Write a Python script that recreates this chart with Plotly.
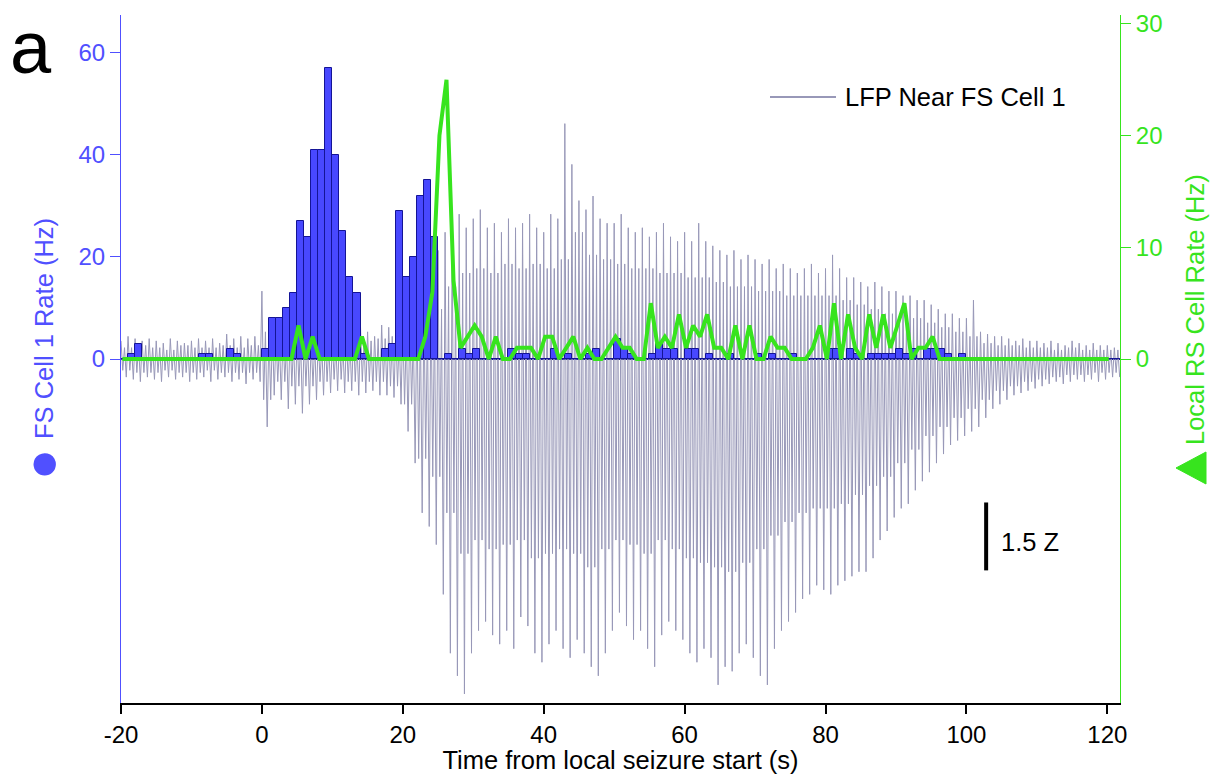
import plotly.graph_objects as go

# ---------------- data ----------------
# 1-s bins, left edge of each bin (s)
time_s = list(range(-20, 122))

# FS Cell 1 firing rate per 1-s bin (Hz)
fs_rate = [0, 1, 3, 0, 0, 0, 0, 0, 0, 0, 0, 1, 1, 0, 0, 2, 1, 0, 0, 0,
           2, 8, 8, 10, 13, 27, 24, 41, 41, 57, 40, 25, 16, 13, 1, 0, 0, 2, 3, 29,
           16, 20, 32, 35, 24, 0, 1, 0, 2, 1, 2, 0, 0, 0, 0, 2, 1, 1, 0, 0,
           0, 2, 0, 1, 0, 0, 1, 2, 0, 0, 4, 2, 1, 0, 0, 1, 3, 2, 2, 0,
           2, 2, 0, 1, 0, 0, 1, 0, 0, 0, 1, 0, 1, 0, 0, 1, 0, 0, 0, 0,
           2, 2, 0, 2, 1, 0, 1, 1, 1, 1, 2, 1, 2, 0, 2, 2, 2, 1, 0, 1,
           0, 0, 0, 0, 0, 0, 0, 0, 0, 0, 0, 0, 0, 0, 0, 0, 0, 0, 0, 0, 0, 0]

# Local RS cell rate, one sample per second (Hz), seconds -20..120
rs_time = list(range(-20, 121))
rs_rate = [0] * 25 + [
    3, 0, 2, 0, 0, 0, 0, 0, 0, 2, 0, 0, 0, 0, 0, 0, 0, 0, 2, 6,
    20, 25, 7, 1, 2, 3, 2, 0, 2, 0, 0, 1, 1, 1, 0, 2, 2, 0, 1, 2,
    0, 1, 0, 0, 1, 2, 1, 1, 0, 0, 5, 1, 2, 1, 4, 1, 3, 2, 4, 1,
    1, 0, 3, 0, 3, 0, 0, 2, 1, 1, 0, 0, 0, 1, 3, 0, 5, 0, 4, 1,
    0, 4, 1, 4, 1, 3, 5, 0, 1, 1, 2] + [0] * 25

# LFP near FS Cell 1 (Z): largest upper / lower excursion in each second
lfp_upper = [0.4, 0.5, 0.45, 0.4, 0.45, 0.4, 0.35, 0.45, 0.4, 0.35,
             0.4, 0.45, 0.4, 0.45, 0.35, 0.55, 0.45, 0.5, 0.45, 0.5,
             1.5, 0.6, 0.55, 0.6, 0.65, 0.6, 0.5, 0.45, 0.5, 0.45,
             0.4, 0.45, 0.5, 0.55, 0.7, 0.6, 0.5, 0.75, 0.7, 0.65,
             0.8, 0.9, 1.2, 1.3, 1.6, 2.4, 2.8, 3.0, 3.2, 2.9,
             3.1, 3.3, 2.9, 3.0, 2.8, 3.1, 2.9, 3.0, 3.2, 2.9,
             2.8, 3.2, 3.1, 5.2, 4.3, 3.5, 3.3, 3.6, 3.1, 3.0,
             3.0, 3.2, 2.9, 2.8, 2.9, 2.7, 2.8, 3.0, 2.7, 2.6,
             2.8, 2.6, 3.0, 2.6, 2.5, 2.4, 2.3, 2.4, 2.2, 2.3,
             2.2, 2.1, 2.2, 2.0, 2.1, 2.0, 1.9, 2.0, 2.1, 1.9,
             2.0, 2.3, 2.0, 1.8, 1.8, 1.7, 1.6, 1.7, 1.6, 1.5,
             1.5, 1.4, 1.4, 1.3, 1.3, 1.2, 1.1, 1.0, 1.0, 0.9,
             0.9, 1.3, 0.6, 0.55, 0.5, 0.5, 0.45, 0.4, 0.45, 0.4,
             0.4, 0.35, 0.4, 0.35, 0.3, 0.4, 0.35, 0.3, 0.35, 0.3,
             0.3, 0.25]
lfp_lower = [-0.4, -0.45, -0.5, -0.4, -0.45, -0.5, -0.4, -0.45, -0.4, -0.5,
             -0.45, -0.4, -0.5, -0.45, -0.4, -0.5, -0.45, -0.55, -0.45, -0.5,
             -1.5, -0.8, -0.9, -1.1, -1.0, -1.2, -1.0, -0.9, -0.8, -0.75,
             -0.7, -0.75, -0.7, -0.8, -0.75, -0.7, -0.8, -0.8, -0.85, -1.0,
             -1.6, -2.3, -3.4, -3.7, -4.1, -5.2, -6.5, -7.0, -7.4, -6.5,
             -6.0, -5.8, -6.1, -6.3, -6.0, -6.4, -5.7, -5.9, -6.5, -6.7,
             -6.3, -6.0, -6.4, -6.6, -6.2, -6.5, -6.8, -7.0, -6.5, -6.0,
             -5.6, -5.9, -6.2, -6.0, -6.4, -6.8, -6.1, -5.8, -6.0, -6.2,
             -6.5, -6.7, -6.4, -6.6, -7.2, -6.8, -6.9, -6.5, -6.3, -6.6,
             -7.0, -7.2, -6.4, -6.0, -5.8, -5.6, -5.3, -5.2, -5.0, -5.1,
             -5.2, -5.0, -4.9, -4.8, -4.7, -4.7, -4.4, -4.0, -3.8, -3.5,
             -3.3, -3.2, -2.9, -2.7, -2.5, -2.3, -2.1, -1.9, -1.8, -1.7,
             -1.6, -1.5, -1.3, -1.1, -1.0, -0.9, -0.8, -0.75, -0.7, -0.65,
             -0.6, -0.55, -0.5, -0.55, -0.5, -0.45, -0.5, -0.45, -0.5, -0.45,
             -0.4, -0.4]

# LFP dense-core extent (Z), one value per 2 s starting at -20 s
core_upper = [0.25, 0.3, 0.25, 0.2, 0.3, 0.25, 0.25, 0.3, 0.25, 0.3,
              0.6, 0.35, 0.4, 0.35, 0.3, 0.3, 0.35, 0.4, 0.45, 0.5,
              0.6, 0.8, 1.1, 1.6, 1.9, 2.0, 1.9, 2.1, 2.0, 2.1,
              2.0, 2.2, 2.8, 2.3, 2.2, 2.1, 2.0, 2.0, 1.9, 1.9,
              1.8, 1.8, 1.7, 1.6, 1.6, 1.5, 1.5, 1.4, 1.4, 1.4,
              1.4, 1.3, 1.2, 1.1, 1.0, 1.0, 0.9, 0.8, 0.7, 0.6,
              0.5, 0.35, 0.3, 0.3, 0.25, 0.25, 0.2, 0.25, 0.2, 0.2, 0.2]
core_lower = [-0.25, -0.3, -0.3, -0.25, -0.3, -0.3, -0.25, -0.3, -0.3, -0.3,
              -0.9, -0.5, -0.6, -0.6, -0.5, -0.45, -0.5, -0.5, -0.5, -0.6,
              -1.0, -2.2, -2.6, -3.4, -4.3, -4.0, -4.2, -4.1, -4.0, -4.4,
              -4.3, -4.2, -4.3, -4.6, -4.2, -4.0, -4.1, -4.3, -4.0, -4.2,
              -4.4, -4.5, -4.6, -4.7, -4.5, -4.2, -3.9, -3.6, -3.4, -3.3,
              -3.3, -3.2, -3.0, -2.8, -2.6, -2.3, -2.0, -1.7, -1.5, -1.3,
              -1.1, -0.9, -0.7, -0.6, -0.5, -0.45, -0.4, -0.35, -0.35, -0.3, -0.3]

x_ticks = [-20, 0, 20, 40, 60, 80, 100, 120]
x_ticktext = ["-20", "0", "20", "40", "60", "80", "100", "120"]
fs_ticks = [0, 20, 40, 60]
rs_ticks = [0, 10, 20, 30]

# ---------------- styling ----------------
BLUE = "rgb(80,80,255)"
BAR_FILL = "rgb(72,72,255)"
BAR_EDGE = "rgb(20,20,150)"
GREEN = "rgb(55,228,30)"
LFP_COL = "rgb(152,152,184)"
FONT = "Liberation Sans, Arial, sans-serif"

# LFP polyline: per second, outer peak -> core trough -> core peak -> outer trough
lfp_t, lfp_z = [], []
for i, t in enumerate(time_s):
    j = i // 2
    lfp_t += [t + 0.0, t + 0.25, t + 0.5, t + 0.75]
    lfp_z += [lfp_upper[i], core_lower[j], core_upper[j], lfp_lower[i]]

fig = go.Figure()
fig.add_trace(go.Scatter(x=lfp_t, y=lfp_z, mode="lines", yaxis="y",
                         line=dict(color=LFP_COL, width=1), hoverinfo="skip",
                         name="LFP Near FS Cell 1"))
fig.add_trace(go.Bar(x=[t + 0.5 for t in time_s], y=fs_rate, width=1, yaxis="y2",
                     marker=dict(color=BAR_FILL, line=dict(color=BAR_EDGE, width=1)),
                     name="FS Cell 1"))
fig.add_trace(go.Scatter(x=[t + 0.2 for t in rs_time], y=rs_rate, mode="lines", yaxis="y3",
                         line=dict(color=GREEN, width=4), name="Local RS"))

# plot-area geometry in page pixels
L, R, T, B = 121, 1120, 15, 703
W, H = 1210, 774
def px(xp):
    return (xp - L) / (R - L)
def py(yp):
    return (B - yp) / (B - T)

fig.update_layout(
    width=W, height=H,
    margin=dict(l=L, r=W - R, t=T, b=H - B, autoexpand=False),
    paper_bgcolor="white", plot_bgcolor="white",
    showlegend=False, bargap=0,
    font=dict(family=FONT, color="black"),
    xaxis=dict(range=[-20, 121.8], tickvals=x_ticks, ticktext=x_ticktext,
               showline=True, linecolor="black", automargin=False,
               linewidth=2, ticks="outside", ticklen=9, tickwidth=1.5, tickcolor="black",
               tickfont=dict(size=24, color="black"), showgrid=False, zeroline=False,
               title=dict(text="Time from local seizure start (s)",
                          font=dict(size=25.5, color="black"), standoff=0)),
    yaxis=dict(range=[-7.6, 7.6], visible=False, fixedrange=True, automargin=False),
    yaxis2=dict(overlaying="y", side="left", anchor="x", range=[-67.4, 67.4],
                tickvals=fs_ticks, showline=True, linecolor=BLUE, linewidth=1,
                ticks="outside", ticklen=10, tickcolor=BLUE, automargin=False,
                tickfont=dict(size=24, color=BLUE), showgrid=False,
                zeroline=True, zerolinecolor=BAR_EDGE, zerolinewidth=1.5),
    yaxis3=dict(overlaying="y", side="right", anchor="x", range=[-30.8, 30.8],
                tickvals=rs_ticks, showline=True, linecolor=GREEN, linewidth=1,
                ticks="outside", ticklen=10, tickcolor=GREEN, automargin=False,
                tickfont=dict(size=24, color=GREEN), showgrid=False, zeroline=False),
)

# scale bar (in LFP units)
fig.add_shape(type="line", xref="x", yref="y", x0=102.8, x1=102.8, y0=-3.17, y1=-4.67,
              line=dict(color="black", width=4))
fig.add_annotation(x=104.6, y=-4.05, xref="x", yref="y", text="1.5 Z", showarrow=False,
                   xanchor="left", yanchor="middle", font=dict(size=25.5, color="black"))

# legend (manual)
fig.add_shape(type="line", xref="paper", yref="paper", x0=px(770), x1=px(836),
              y0=py(97), y1=py(97), line=dict(color=LFP_COL, width=2))
fig.add_annotation(x=px(843), y=py(97), xref="paper", yref="paper",
                   text="LFP Near FS Cell 1", showarrow=False, xanchor="left",
                   yanchor="middle", font=dict(size=25.5, color="black"))

# axis titles with markers
fig.add_annotation(x=px(44), y=py(329), xref="paper", yref="paper",
                   text="FS Cell 1 Rate (Hz)", textangle=-90, showarrow=False,
                   xanchor="center", yanchor="middle",
                   font=dict(size=25.5, color=BLUE))
fig.add_annotation(x=px(44), y=py(461), xref="paper", yref="paper",
                   text="●", showarrow=False, xanchor="center", yanchor="middle",
                   font=dict(size=52, color=BLUE))
fig.add_annotation(x=px(1195), y=py(310), xref="paper", yref="paper",
                   text="Local RS Cell Rate (Hz)", textangle=-90, showarrow=False,
                   xanchor="center", yanchor="middle",
                   font=dict(size=25.5, color=GREEN))
# left-pointing triangle marker of the RS axis title
tri = "M {:.5f} {:.5f} L {:.5f} {:.5f} L {:.5f} {:.5f} Z".format(
    px(1176), py(468), px(1206), py(452), px(1206), py(484))
fig.add_shape(type="path", xref="paper", yref="paper", path=tri,
              fillcolor=GREEN, line=dict(color=GREEN, width=1))

# panel label
fig.add_annotation(x=px(31), y=py(48), xref="paper", yref="paper", text="a",
                   showarrow=False, xanchor="center", yanchor="middle",
                   font=dict(size=74, color="black"))

fig.write_html("out.html",
               config={"displayModeBar": False},
               post_script="document.body.style.margin='0px';"
                           "document.body.style.overflow='hidden';")
